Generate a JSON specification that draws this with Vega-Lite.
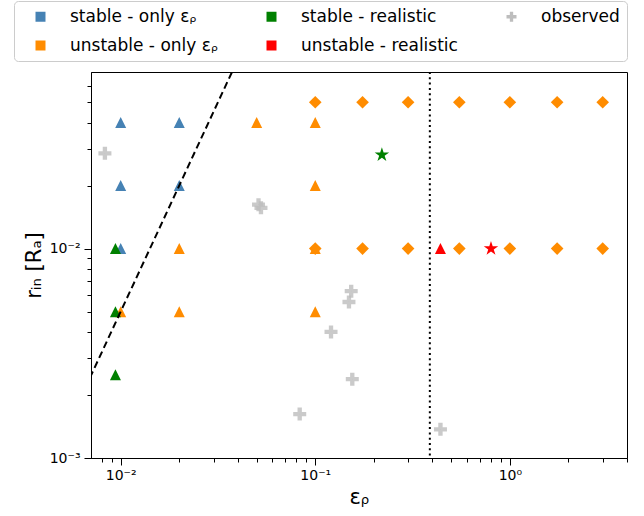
{
  "$schema": "https://vega.github.io/schema/vega-lite/v6.json",
  "width": 536,
  "height": 386,
  "autosize": {"type": "none"},
  "padding": {"left": 91, "top": 72, "right": 17, "bottom": 58},
  "background": "white",
  "config": {
    "font": "DejaVu Sans",
    "view": {"stroke": "black", "strokeWidth": 1},
    "axis": {
      "grid": false,
      "domainColor": "black",
      "tickColor": "black",
      "labelColor": "black",
      "titleColor": "black",
      "labelFont": "DejaVu Sans",
      "titleFont": "DejaVu Sans",
      "titleFontWeight": "normal",
      "labelOverlap": false,
      "labelFlush": false
    },
    "legend": {
      "orient": "none",
      "legendX": -77,
      "legendY": -71,
      "direction": "horizontal",
      "columns": 3,
      "gridAlign": "each",
      "columnPadding": 34,
      "rowPadding": 11,
      "labelFontSize": 17,
      "labelFont": "DejaVu Sans",
      "labelColor": "black",
      "labelOffset": 21,
      "symbolSize": 100,
      "symbolOffset": 11,
      "symbolStrokeWidth": 0,
      "symbolOpacity": 1,
      "strokeColor": "#cccccc",
      "cornerRadius": 4,
      "padding": 7,
      "fillColor": "white",
      "labelLimit": 300
    }
  },
  "datasets": {
    "pts": [
      {"x": 0.01, "y": 0.04, "group": "stable - only εᵨ", "marker": "tri"},
      {"x": 0.02, "y": 0.04, "group": "stable - only εᵨ", "marker": "tri"},
      {"x": 0.01, "y": 0.02, "group": "stable - only εᵨ", "marker": "tri"},
      {"x": 0.02, "y": 0.02, "group": "stable - only εᵨ", "marker": "tri"},
      {"x": 0.01, "y": 0.01, "group": "stable - only εᵨ", "marker": "tri"},
      {"x": 0.05, "y": 0.04, "group": "unstable - only εᵨ", "marker": "tri"},
      {"x": 0.1, "y": 0.04, "group": "unstable - only εᵨ", "marker": "tri"},
      {"x": 0.1, "y": 0.02, "group": "unstable - only εᵨ", "marker": "tri"},
      {"x": 0.02, "y": 0.01, "group": "unstable - only εᵨ", "marker": "tri"},
      {"x": 0.1, "y": 0.01, "group": "unstable - only εᵨ", "marker": "tri"},
      {"x": 0.01, "y": 0.005, "group": "unstable - only εᵨ", "marker": "tri"},
      {"x": 0.02, "y": 0.005, "group": "unstable - only εᵨ", "marker": "tri"},
      {"x": 0.1, "y": 0.005, "group": "unstable - only εᵨ", "marker": "tri"},
      {"x": 0.1, "y": 0.05, "group": "unstable - only εᵨ", "marker": "dia"},
      {"x": 0.175, "y": 0.05, "group": "unstable - only εᵨ", "marker": "dia"},
      {"x": 0.3, "y": 0.05, "group": "unstable - only εᵨ", "marker": "dia"},
      {"x": 0.55, "y": 0.05, "group": "unstable - only εᵨ", "marker": "dia"},
      {"x": 1.0, "y": 0.05, "group": "unstable - only εᵨ", "marker": "dia"},
      {"x": 1.75, "y": 0.05, "group": "unstable - only εᵨ", "marker": "dia"},
      {"x": 3.0, "y": 0.05, "group": "unstable - only εᵨ", "marker": "dia"},
      {"x": 0.1, "y": 0.01, "group": "unstable - only εᵨ", "marker": "dia"},
      {"x": 0.175, "y": 0.01, "group": "unstable - only εᵨ", "marker": "dia"},
      {"x": 0.3, "y": 0.01, "group": "unstable - only εᵨ", "marker": "dia"},
      {"x": 0.55, "y": 0.01, "group": "unstable - only εᵨ", "marker": "dia"},
      {"x": 1.0, "y": 0.01, "group": "unstable - only εᵨ", "marker": "dia"},
      {"x": 1.75, "y": 0.01, "group": "unstable - only εᵨ", "marker": "dia"},
      {"x": 3.0, "y": 0.01, "group": "unstable - only εᵨ", "marker": "dia"},
      {"x": 0.0094, "y": 0.01, "group": "stable - realistic", "marker": "tri"},
      {"x": 0.0094, "y": 0.005, "group": "stable - realistic", "marker": "tri"},
      {"x": 0.0094, "y": 0.0025, "group": "stable - realistic", "marker": "tri"},
      {"x": 0.22, "y": 0.028, "group": "stable - realistic", "marker": "star"},
      {"x": 0.44, "y": 0.01, "group": "unstable - realistic", "marker": "tri"},
      {"x": 0.8, "y": 0.01, "group": "unstable - realistic", "marker": "star"},
      {"x": 0.0083, "y": 0.0285, "group": "observed", "marker": "plus"},
      {"x": 0.0511, "y": 0.0162, "group": "observed", "marker": "plus"},
      {"x": 0.0526, "y": 0.01566, "group": "observed", "marker": "plus"},
      {"x": 0.153, "y": 0.00626, "group": "observed", "marker": "plus"},
      {"x": 0.149, "y": 0.00556, "group": "observed", "marker": "plus"},
      {"x": 0.1205, "y": 0.004, "group": "observed", "marker": "plus"},
      {"x": 0.155, "y": 0.00238, "group": "observed", "marker": "plus"},
      {"x": 0.0832, "y": 0.00162, "group": "observed", "marker": "plus"},
      {"x": 0.44, "y": 0.00137, "group": "observed", "marker": "plus"}
    ],
    "vline": [{"x": 0.388}],
    "dline": [{"x": 0.005, "y": 0.00125}, {"x": 0.04, "y": 0.08}]
  },
  "encoding": {
    "x": {
      "field": "x", "type": "quantitative",
      "scale": {"type": "log", "domain": [0.00704, 4.0], "nice": false, "zero": false},
      "axis": {
        "title": "εᵨ",
        "titleFontSize": 21,
        "titlePadding": 4,
        "labelFontSize": 14,
        "labelPadding": 3,
        "values": [0.008, 0.009, 0.01, 0.02, 0.03, 0.04, 0.05, 0.06, 0.07, 0.08, 0.09, 0.1, 0.2, 0.3, 0.4, 0.5, 0.6, 0.7, 0.8, 0.9, 1, 2, 3, 4],
        "labelExpr": "datum.value == 0.01 ? '10⁻²' : datum.value == 0.1 ? '10⁻¹' : datum.value == 1 ? '10⁰' : ''",
        "tickSize": {"condition": {"test": "datum.value == 0.01 || datum.value == 0.1 || datum.value == 1", "value": 7}, "value": 4}
      }
    },
    "y": {
      "field": "y", "type": "quantitative",
      "scale": {"type": "log", "domain": [0.001, 0.0697], "nice": false, "zero": false},
      "axis": {
        "title": "rᵢₙ [Rₐ]",
        "titleFontSize": 21,
        "titlePadding": 5,
        "labelFontSize": 14,
        "labelPadding": 4,
        "values": [0.001, 0.002, 0.003, 0.004, 0.005, 0.006, 0.007, 0.008, 0.009, 0.01, 0.02, 0.03, 0.04, 0.05, 0.06],
        "labelExpr": "datum.value == 0.001 ? '10⁻³' : datum.value == 0.01 ? '10⁻²' : ''",
        "tickSize": {"condition": {"test": "datum.value == 0.001 || datum.value == 0.01", "value": 7}, "value": 4}
      }
    }
  },
  "layer": [
    {
      "data": {"name": "pts"},
      "mark": {"type": "point", "filled": true, "strokeWidth": 0, "size": 0.5, "opacity": 1},
      "encoding": {
        "color": {
          "field": "group", "type": "nominal",
          "scale": {
            "domain": ["stable - only εᵨ", "stable - realistic", "observed", "unstable - only εᵨ", "unstable - realistic"],
            "range": ["#4682b4", "#008000", "#bdbdbd", "#ff8c00", "#ff0000"]
          },
          "legend": {"title": null}
        },
        "shape": {
          "field": "group", "type": "nominal",
          "scale": {
            "domain": ["stable - only εᵨ", "stable - realistic", "observed", "unstable - only εᵨ", "unstable - realistic"],
            "range": ["square", "square", "M-0.333,-1L0.333,-1L0.333,-0.333L1,-0.333L1,0.333L0.333,0.333L0.333,1L-0.333,1L-0.333,0.333L-1,0.333L-1,-0.333L-0.333,-0.333Z", "square", "square"]
          },
          "legend": {"title": null}
        }
      }
    },
    {
      "data": {"name": "pts"},
      "transform": [{"filter": "datum.marker === 'tri'"}],
      "mark": {"type": "point", "filled": true, "strokeWidth": 0, "opacity": 1, "size": 121, "shape": "M0,-1L-1,1L1,1Z"},
      "encoding": {"color": {"field": "group", "type": "nominal"}}
    },
    {
      "data": {"name": "pts"},
      "transform": [{"filter": "datum.marker === 'dia'"}],
      "mark": {"type": "point", "filled": true, "strokeWidth": 0, "opacity": 1, "size": 160, "shape": "diamond"},
      "encoding": {"color": {"field": "group", "type": "nominal"}}
    },
    {
      "data": {"name": "pts"},
      "transform": [{"filter": "datum.marker === 'star'"}],
      "mark": {"type": "point", "filled": true, "strokeWidth": 0, "opacity": 1, "size": 230, "shape": "M0,-1L0.2245,-0.309L0.951,-0.309L0.363,0.118L0.588,0.809L0,0.382L-0.588,0.809L-0.363,0.118L-0.951,-0.309L-0.2245,-0.309Z"},
      "encoding": {"color": {"field": "group", "type": "nominal"}}
    },
    {
      "data": {"name": "pts"},
      "transform": [{"filter": "datum.marker === 'plus'"}],
      "mark": {"type": "point", "filled": true, "strokeWidth": 0, "opacity": 0.8, "size": 169, "shape": "M-0.333,-1L0.333,-1L0.333,-0.333L1,-0.333L1,0.333L0.333,0.333L0.333,1L-0.333,1L-0.333,0.333L-1,0.333L-1,-0.333L-0.333,-0.333Z"},
      "encoding": {"color": {"field": "group", "type": "nominal"}}
    },
    {
      "data": {"name": "vline"},
      "mark": {"type": "rule", "color": "black", "strokeWidth": 2, "strokeDash": [2, 3.3]},
      "encoding": {"x": {"field": "x", "type": "quantitative"}, "y": null}
    },
    {
      "data": {"name": "dline"},
      "mark": {"type": "line", "color": "black", "strokeWidth": 2, "strokeDash": [7, 4], "clip": true},
      "encoding": {}
    }
  ]
}
